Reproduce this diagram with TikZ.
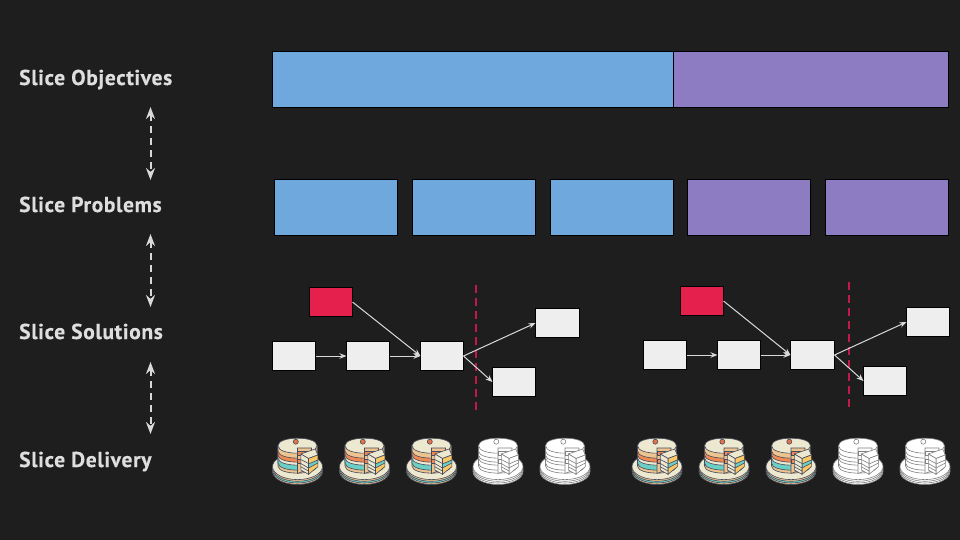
\documentclass[tikz,border=0pt]{standalone}
\usepackage{fontspec}
\setmainfont{PT Sans}[LetterSpace=3,FakeBold=0.3]
\usetikzlibrary{arrows.meta}
\definecolor{bgc}{HTML}{1E1E1E}
\definecolor{blueb}{HTML}{6FA8DC}
\definecolor{purpb}{HTML}{8E7CC3}
\definecolor{redb}{HTML}{E6204C}
\definecolor{whiteb}{HTML}{EEEEEE}
\definecolor{cutc}{HTML}{C2184A}
\definecolor{labc}{HTML}{DEDEDE}
\definecolor{arrc}{HTML}{D9D9D9}
\newcommand{\cband}[2]{\filldraw[cakeline,fill=#2] (-19.5,-19) -- (-19.5,#1) .. controls (-19.5,#1+9.5) and (19.5,#1+9.5) .. (19.5,#1) -- (19.5,-19) -- cycle;}
\newcommand{\cplate}[2]{\filldraw[cakeline,fill=#2] (0,#1) ellipse[x radius=25,y radius=13];}
\tikzset{
  x=1pt,y=-1pt,
  bigbox/.style={draw=black,line width=0.7pt,minimum height=56pt,inner sep=0pt,outer sep=0pt},
  stepbox/.style={bigbox,minimum width=123pt},
  solbox/.style={draw=black,line width=0.8pt,fill=whiteb,minimum width=43pt,minimum height=29pt,inner sep=0pt,outer sep=0pt},
  redbox/.style={solbox,fill=redb},
  rowlabel/.style={anchor=base west,inner sep=0pt,text=labc,font=\fontsize{21.5}{24}\selectfont\bfseries},
  linkarrow/.style={draw=arrc,line width=1pt,-{Stealth[length=7pt,width=5.5pt]}},
  levelarrow/.style={draw=arrc,line width=2pt,dash pattern=on 7pt off 5pt,{Stealth[length=12pt,width=9pt]}-{Stealth[length=12pt,width=9pt]}},
  cutline/.style={draw=cutc,line width=2pt,dash pattern=on 8pt off 5pt},
  cakeline/.style={draw=cLine,line width=0.6pt},
  colourcake/.code={\definecolor{cLine}{HTML}{474A5C}\definecolor{cCream}{HTML}{EDE8D0}%
    \definecolor{cTan}{HTML}{EBC48F}\definecolor{cOrange}{HTML}{F08A55}\definecolor{cTeal}{HTML}{6CCFC6}%
    \definecolor{cYellow}{HTML}{F9C765}\definecolor{cCherry}{HTML}{E8734A}\definecolor{cBase}{HTML}{E8BE8C}},
  plaincake/.code={\definecolor{cLine}{HTML}{808080}\definecolor{cCream}{HTML}{FFFFFF}%
    \definecolor{cTan}{HTML}{FFFFFF}\definecolor{cOrange}{HTML}{FFFFFF}\definecolor{cTeal}{HTML}{FFFFFF}%
    \definecolor{cYellow}{HTML}{FFFFFF}\definecolor{cCherry}{HTML}{FFFFFF}\definecolor{cBase}{HTML}{FFFFFF}},
  cake/.pic={
    \cplate{6.5}{cBase}\cplate{5}{cTeal}\cplate{3.3}{cBase}\cplate{1.6}{cCream}
    \cband{1}{cTan}\cband{-2}{cTeal}\cband{-7}{cCream}\cband{-10}{cOrange}\cband{-14}{cTan}
    \filldraw[cakeline,fill=cCream] (-19.5,-19.3) .. controls (-19.5,-29.3) and (19.5,-29.3) .. (19.5,-19.3) .. controls (19.5,-9.3) and (-19.5,-9.3) .. (-19.5,-19.3) -- cycle;
    \filldraw[cakeline,fill=cTan] (0,-17) -- (14,-17) -- (14,3) -- (0,8.5) -- cycle;
    \filldraw[cakeline,fill=cOrange] (0,-14) -- (14,-14) -- (14,-10) -- (0,-10) -- cycle;
    \filldraw[cakeline,fill=cOrange] (0,-6) -- (14,-6) -- (14,-2) -- (0,-2) -- cycle;
    \filldraw[cakeline,fill=cCream] (3.3,-11) -- (17.7,-16) -- (20.3,-10) -- (11,-6.5) -- cycle;
    \filldraw[cakeline,fill=cYellow] (11,-6.5) -- (20.3,-10) -- (20.3,1.7) -- (11,9.3) -- cycle;
    \filldraw[cakeline,fill=cTeal] (11,-1) -- (20.3,-5) -- (20.3,-2) -- (11,3) -- cycle;
    \filldraw[cakeline,fill=cCream] (3.3,-11) -- (11,-6.5) -- (11,9.3) -- (3.3,5) -- cycle;
    \draw[cakeline] (3.3,-5.5) -- (11,-1.5) (3.3,-1.5) -- (11,3) (3.3,1.8) -- (11,6);
    \filldraw[cakeline,fill=cCherry] (-1.7,-23.3) circle[radius=2.5];
  }
}
\begin{document}
\begin{tikzpicture}
\useasboundingbox[fill=bgc] (0,0) rectangle (960,540);
% labels
\node[rowlabel] (l1) at (19,85) {Slice Objectives};
\node[rowlabel] (l2) at (19,212) {Slice Problems};
\node[rowlabel] (l3) at (19,339) {Slice Solutions};
\node[rowlabel] (l4) at (19,467) {Slice Delivery};
% level arrows
\coordinate (a1) at (150.5,107); \coordinate (a2) at (150.5,180);
\coordinate (b1) at (150.5,234); \coordinate (b2) at (150.5,307);
\coordinate (c1) at (150.5,362); \coordinate (c2) at (150.5,434);
\draw[levelarrow] (a1) -- (a2);
\draw[levelarrow] (b1) -- (b2);
\draw[levelarrow] (c1) -- (c2);
% objectives
\node[bigbox,fill=blueb,minimum width=401pt,anchor=north west] (o1) at (272.5,51.5) {};
\node[bigbox,fill=purpb,minimum width=275pt,anchor=north west] (o2) at (673.5,51.5) {};
% problems
\node[stepbox,fill=blueb,anchor=north west] (p1) at (274.5,179.5) {};
\node[stepbox,fill=blueb,anchor=north west] (p2) at (412.5,179.5) {};
\node[stepbox,fill=blueb,anchor=north west] (p3) at (550.5,179.5) {};
\node[stepbox,fill=purpb,anchor=north west] (p4) at (687.5,179.5) {};
\node[stepbox,fill=purpb,anchor=north west] (p5) at (825.5,179.5) {};
% cut lines
\coordinate (k1) at (475.5,285); \coordinate (k2) at (475.5,414);
\coordinate (m1) at (848.5,282); \coordinate (m2) at (848.5,411);
\draw[cutline] (k1) -- (k2);
\draw[cutline] (m1) -- (m2);
% solutions left
\node[redbox,anchor=north west] (r1) at (309.5,287.5) {};
\node[solbox,anchor=north west] (s1) at (272.5,341.5) {};
\node[solbox,anchor=north west] (s2) at (346.5,341.5) {};
\node[solbox,anchor=north west] (s3) at (420.5,341.5) {};
\node[solbox,anchor=north west,minimum width=44pt] (s4) at (535.5,308.5) {};
\node[solbox,anchor=north west] (s5) at (492.5,367.5) {};
\draw[linkarrow] (s1) -- (s2);
\draw[linkarrow] (s2) -- (s3);
\draw[linkarrow] (r1.east) -- (s3.west);
\draw[linkarrow] (s3.east) -- (s4.west);
\draw[linkarrow] (s3.east) -- (s5.west);
% solutions right
\node[redbox,anchor=north west] (r2) at (680.5,286.5) {};
\node[solbox,anchor=north west] (t1) at (643.5,340.5) {};
\node[solbox,anchor=north west] (t2) at (717.5,340.5) {};
\node[solbox,anchor=north west,minimum width=44pt] (t3) at (790.5,340.5) {};
\node[solbox,anchor=north west] (t4) at (906.5,307.5) {};
\node[solbox,anchor=north west] (t5) at (863.5,366.5) {};
\draw[linkarrow] (t1) -- (t2);
\draw[linkarrow] (t2) -- (t3);
\draw[linkarrow] (r2.east) -- (t3.west);
\draw[linkarrow] (t3.east) -- (t4.west);
\draw[linkarrow] (t3.east) -- (t5.west);
% cakes
\foreach \cx in {297.5,364.5,431.5,657,724,791}
  \path pic[colourcake] at (\cx,465) {cake};
\foreach \cx in {498,565,858,925}
  \path pic[plaincake] at (\cx,465) {cake};
\end{tikzpicture}
\end{document}
